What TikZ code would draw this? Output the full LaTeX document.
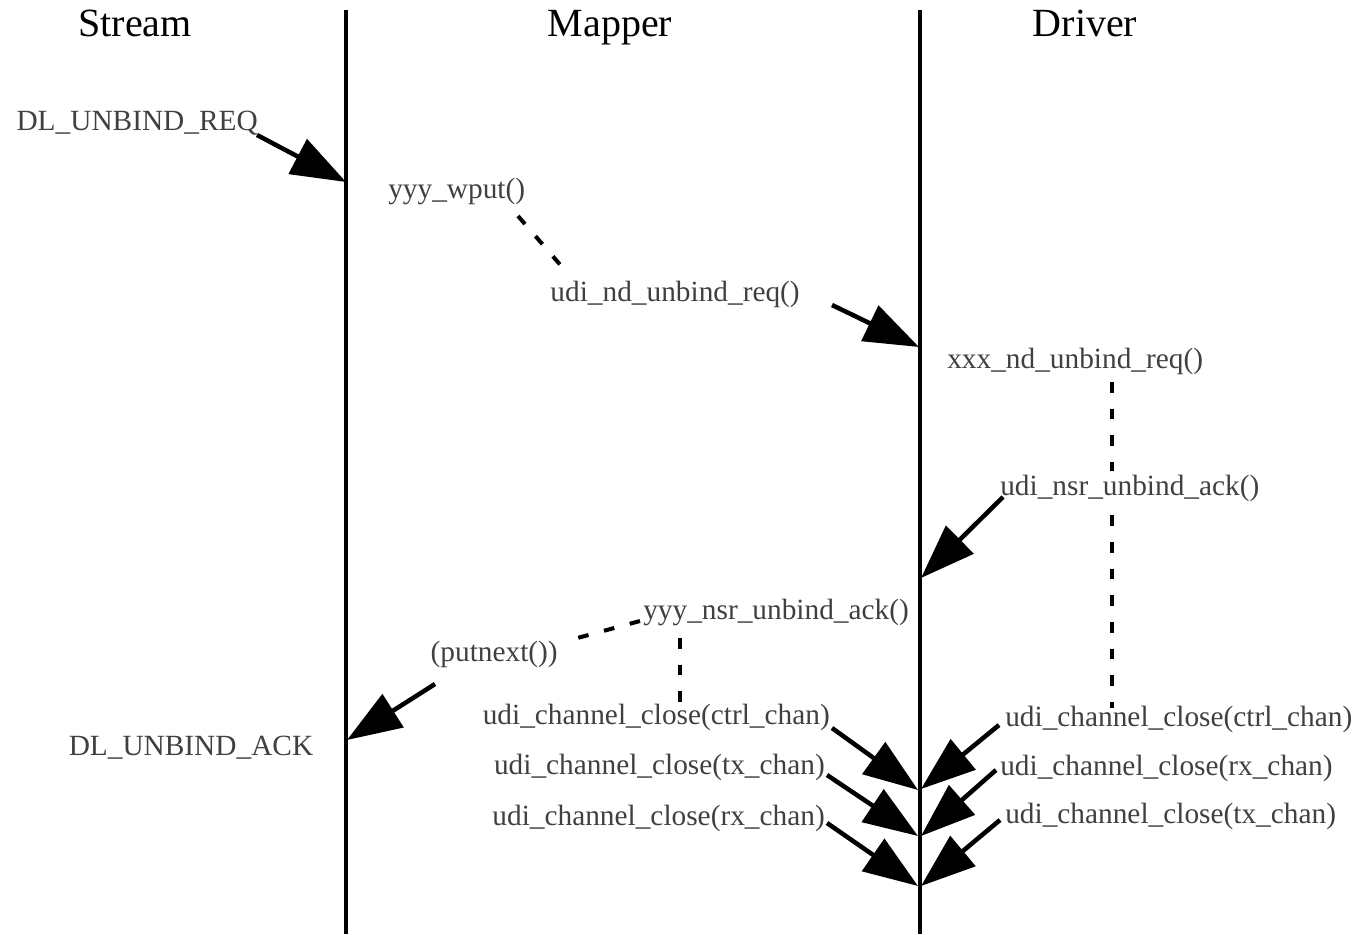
\documentclass[tikz,border=0pt]{standalone}
\usepackage{fontspec}
\setmainfont{Liberation Serif}
\usetikzlibrary{arrows.meta}
\begin{document}
\begin{tikzpicture}[x=0.75pt,y=-0.75pt,
  lifeline/.style={line width=2.4pt},
  head/.style={font=\fontsize{30}{36}\selectfont, inner sep=0pt, anchor=base},
  lbl/.style={font=\fontsize{22}{26}\selectfont, text=black!75, inner sep=0pt},
  call/.style={line width=3.4pt, -{Triangle[length=41pt,width=29pt]}},
  flow/.style={line width=3pt, dash pattern=on 8pt off 12pt}
]
\useasboundingbox (0,0) rectangle (1358,934);

% lifelines
\draw[lifeline] (346,10) -- (346,934);
\draw[lifeline] (920,10) -- (920,934);

% connector end points
\coordinate (reqA) at (257,135);  \coordinate (reqB) at (346,182);
\coordinate (wA) at (518,216);    \coordinate (wB) at (563,268);
\coordinate (ndA) at (832,305);   \coordinate (ndB) at (919,347);
\coordinate (xA) at (1112,382);   \coordinate (xB) at (1112,708);
\coordinate (nsA) at (1003,497);  \coordinate (nsB) at (921,578);
\coordinate (yA) at (640,621);    \coordinate (yB) at (570,640);
\coordinate (yvA) at (680,638);   \coordinate (yvB) at (680,705);
\coordinate (akA) at (435,684);   \coordinate (akB) at (347,740);
\coordinate (m1A) at (832,728);   \coordinate (m1B) at (918,790);
\coordinate (m2A) at (827,775);   \coordinate (m2B) at (918,836);
\coordinate (m3A) at (827,823);   \coordinate (m3B) at (918,886);
\coordinate (d1A) at (999,725);   \coordinate (d1B) at (921,789);
\coordinate (d2A) at (996,770);   \coordinate (d2B) at (921,836);
\coordinate (d3A) at (1000,820);  \coordinate (d3B) at (921,886);

% internal flow inside a component
\draw[flow] (wA) -- (wB);
\draw[flow] (xA) -- (xB);
\draw[flow] (yA) -- (yB);
\draw[flow] (yvA) -- (yvB);

% column headings
\node[head] (hS) at (135,37) {Stream};
\node[head] (hM) at (610,37) {Mapper};
\node[head] (hD) at (1085,37) {Driver};

% labels
\node[lbl, anchor=mid east] (req)   at (258,127) {DL\_UNBIND\_REQ};
\node[lbl, anchor=mid west] (wput)  at (388,195) {yyy\_wput()};
\node[lbl, anchor=mid east] (ndreq) at (800,298) {udi\_nd\_unbind\_req()};
\node[lbl, anchor=mid west] (xreq)  at (947,365) {xxx\_nd\_unbind\_req()};
\node[lbl, anchor=mid west, fill=white, inner ysep=3pt] (nsr) at (1000,492) {udi\_nsr\_unbind\_ack()};
\node[lbl, anchor=mid west] (yack)  at (643,616) {yyy\_nsr\_unbind\_ack()};
\node[lbl, anchor=mid east] (pnext) at (558,658) {(putnext())};
\node[lbl, anchor=mid]      (ack)   at (191,752) {DL\_UNBIND\_ACK};

\node[lbl, anchor=mid east] (mc1) at (830,721) {udi\_channel\_close(ctrl\_chan)};
\node[lbl, anchor=mid east] (mc2) at (825,771) {udi\_channel\_close(tx\_chan)};
\node[lbl, anchor=mid east] (mc3) at (825,822) {udi\_channel\_close(rx\_chan)};
\node[lbl, anchor=mid west] (dc1) at (1005,723) {udi\_channel\_close(ctrl\_chan)};
\node[lbl, anchor=mid west] (dc2) at (1000,772) {udi\_channel\_close(rx\_chan)};
\node[lbl, anchor=mid west] (dc3) at (1005,820) {udi\_channel\_close(tx\_chan)};

% message arrows
\draw[call] (reqA) -- (reqB);
\draw[call] (ndA) -- (ndB);
\draw[call] (nsA) -- (nsB);
\draw[call] (akA) -- (akB);
\draw[call] (m1A) -- (m1B);
\draw[call] (m2A) -- (m2B);
\draw[call] (m3A) -- (m3B);
\draw[call] (d1A) -- (d1B);
\draw[call] (d2A) -- (d2B);
\draw[call] (d3A) -- (d3B);
\end{tikzpicture}
\end{document}
